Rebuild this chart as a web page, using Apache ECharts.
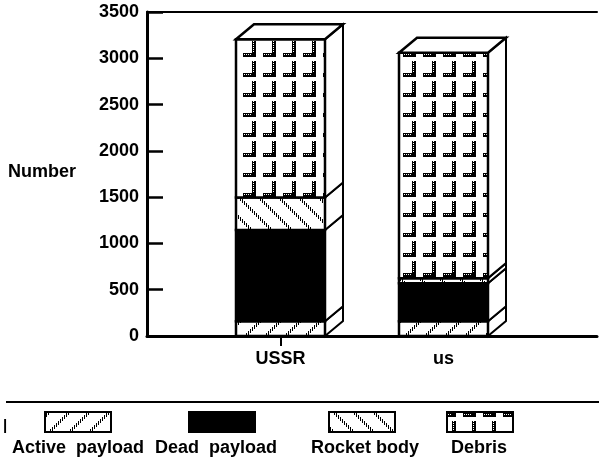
<!DOCTYPE html>
<html lang="en">
<head>
    <meta charset="UTF-8">
    <script src="https://cdn.jsdelivr.net/npm/echarts@6/dist/echarts.min.js"></script>
    <style>
        html, body { margin: 0; padding: 0; background: #fff; }
        #main { width: 599px; height: 459px; }
    </style>
</head>
<body>
    <div id="main"></div>
</body>
<script>
    // values
    var categories = ['USSR', 'us'];
    var activePayload = [160, 160];
    var deadPayload = [985, 410];
    var rocketBody = [350, 55];
    var debris = [1710, 2435];
    var seriesNames = ['Active  payload', 'Dead  payload', 'Rocket body', 'Debris'];
    var yTicks = [0, 500, 1000, 1500, 2000, 2500, 3000, 3500];

    var FONT = '"Liberation Sans", Arial, sans-serif';
    var DX = 18, DY = 15;

    function makeCanvas(w, h) {
        var c = document.createElement('canvas');
        c.width = w; c.height = h;
        return c;
    }
    // dotted diagonal stripes; dir 1 = "/", -1 = "\"
    function stripePattern(dir) {
        var c = makeCanvas(20, 20), g = c.getContext('2d');
        g.fillStyle = '#fff'; g.fillRect(0, 0, 20, 20);
        g.fillStyle = '#000';
        for (var i = 0; i < 20; i++) {
            for (var w = 0; w < 4; w++) {
                var x = (i + w) % 20;
                var y = dir > 0 ? 19 - i : i;
                if ((i + w) % 2 === 0) g.fillRect(x, y, 1, 1);
            }
        }
        return { image: c, repeat: 'repeat' };
    }
    function debrisPattern() {
        var c = makeCanvas(20, 20), g = c.getContext('2d');
        g.fillStyle = '#fff'; g.fillRect(0, 0, 20, 20);
        g.fillStyle = '#000';
        g.fillRect(12, 1, 4, 16);
        g.fillRect(3, 13, 12, 4);
        g.fillStyle = '#fff';
        for (var y = 1; y < 13; y += 2) g.fillRect(13, y, 1, 1);
        for (var x = 4; x < 12; x += 2) g.fillRect(x, 14, 1, 1);
        return { image: c, repeat: 'repeat' };
    }
    var fills = [stripePattern(1), '#000', stripePattern(-1), debrisPattern()];

    // stacked ranges built from the arrays
    var stacks = [activePayload, deadPayload, rocketBody, debris];
    var seriesData = stacks.map(function () { return []; });
    categories.forEach(function (c, i) {
        var base = 0;
        stacks.forEach(function (arr, k) {
            seriesData[k].push([i, base, base + arr[i]]);
            base += arr[i];
        });
    });

    function makeRender(k) {
        var last = k === stacks.length - 1;
        return function (params, api) {
            var cat = api.value(0);
            var p0 = api.coord([cat, api.value(1)]);
            var p1 = api.coord([cat, api.value(2)]);
            var bw = api.size([1, 0])[0] * 0.546;
            var x0 = p0[0] - bw / 2, x1 = p0[0] + bw / 2;
            var yb = p0[1], yt = p1[1];
            var kids = [
                {
                    type: 'polygon',
                    shape: { points: [[x1, yb], [x1 + DX, yb - DY], [x1 + DX, yt - DY], [x1, yt]] },
                    style: { fill: '#fff', stroke: '#000', lineWidth: 2 }
                },
                {
                    type: 'rect',
                    shape: { x: x0, y: yt, width: bw, height: yb - yt },
                    style: { fill: fills[k], stroke: '#000', lineWidth: 2.5 }
                }
            ];
            if (last) {
                kids.push({
                    type: 'polygon',
                    shape: { points: [[x0, yt], [x0 + DX, yt - DY], [x1 + DX, yt - DY], [x1, yt]] },
                    style: { fill: '#fff', stroke: '#000', lineWidth: 2.5 }
                });
            }
            return { type: 'group', children: kids };
        };
    }

    var labelStyle = { color: '#000', fontFamily: FONT, fontWeight: 'bold', fontSize: 18 };

    // legend drawn under the rule line
    var legendX = [[45, 78], [189, 216], [329, 365], [447, 479]];
    var graphics = [
        { type: 'line', shape: { x1: 6, y1: 402, x2: 599, y2: 402 }, style: { stroke: '#000', lineWidth: 2 } },
        { type: 'text', left: 3, top: 418, style: { text: '|', font: 'bold 15px ' + FONT, fill: '#000' } },
        { type: 'text', left: 8, top: 163, style: { text: 'Number', font: 'bold 18px ' + FONT, fill: '#000' } }
    ];
    seriesNames.forEach(function (name, k) {
        graphics.push({
            type: 'rect',
            shape: { x: legendX[k][0], y: 412, width: 66, height: 20 },
            style: { fill: fills[k], stroke: '#000', lineWidth: 2 }
        });
        graphics.push({
            type: 'text',
            x: legendX[k][1], y: 448,
            style: { text: name, font: 'bold 18px ' + FONT, fill: '#000', align: 'center', verticalAlign: 'middle' }
        });
    });

    var myChart = echarts.init(document.getElementById('main'), null, { renderer: 'canvas' });
    var option = {
        animation: false,
        backgroundColor: '#fff',
        grid: [
            { left: 147, right: 2, top: 12, bottom: 123 },
            { left: 199, right: 74, top: 12, bottom: 123 }
        ],
        xAxis: [
            {
                type: 'category', gridIndex: 0, data: categories.map(function () { return ''; }),
                axisLine: { lineStyle: { color: '#000', width: 3 } },
                axisTick: { show: false }, axisLabel: { show: false }
            },
            {
                type: 'category', gridIndex: 0, position: 'top', data: categories.map(function () { return ''; }),
                axisLine: { lineStyle: { color: '#000', width: 2 } },
                axisTick: { show: false }, axisLabel: { show: false }
            },
            {
                type: 'category', gridIndex: 1, data: categories,
                axisLine: { show: false },
                axisTick: {
                    show: true, alignWithLabel: true, length: 10,
                    interval: function (i) { return i === 0; },
                    lineStyle: { color: '#000', width: 2 }
                },
                axisLabel: Object.assign({ margin: 14 }, labelStyle)
            }
        ],
        yAxis: [
            {
                type: 'value', gridIndex: 0, min: yTicks[0], max: yTicks[yTicks.length - 1], interval: 500,
                splitLine: { show: false },
                axisLine: { show: true, lineStyle: { color: '#000', width: 3 } },
                axisTick: { show: true, inside: true, length: 16, lineStyle: { color: '#000', width: 2.5 } },
                axisLabel: Object.assign({ margin: 8, formatter: function (v) { return String(v); } }, labelStyle)
            },
            {
                type: 'value', gridIndex: 1, min: yTicks[0], max: yTicks[yTicks.length - 1], interval: 500,
                show: false
            }
        ],
        series: seriesNames.map(function (name, k) {
            return {
                name: name,
                type: 'custom',
                xAxisIndex: 2,
                yAxisIndex: 1,
                renderItem: makeRender(k),
                encode: { x: 0, y: [1, 2] },
                data: seriesData[k]
            };
        }),
        graphic: graphics
    };
    myChart.setOption(option);
</script>
</html>
